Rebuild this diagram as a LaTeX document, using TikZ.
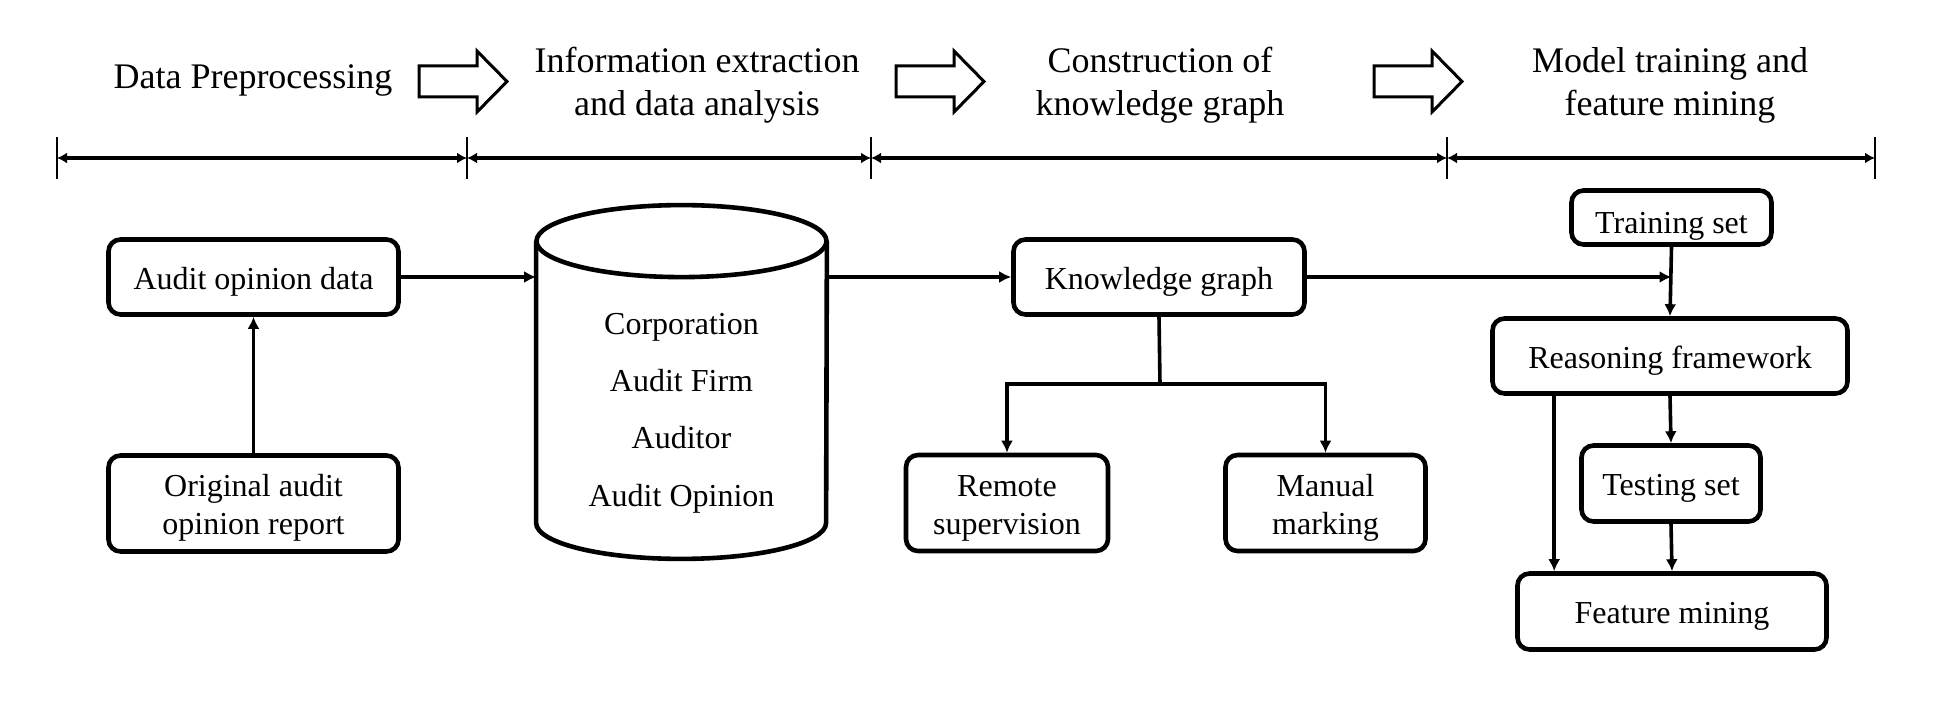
\documentclass[tikz,border=0pt]{standalone}
\usepackage{fontspec}
\setmainfont{Liberation Serif}
\usetikzlibrary{arrows.meta}
\newcommand{\bxfont}{\fontsize{16}{19}\selectfont}
\newcommand{\hdfont}{\fontsize{18}{21.5}\selectfont}
\newcommand{\lift}[1][15.5pt]{\rule{0pt}{#1}}
\begin{document}
\begin{tikzpicture}[x=0.5pt,y=-0.5pt,
  box/.style={draw, line width=2.3pt, rounded corners=6pt, align=center, inner sep=0pt, font=\bxfont},
  hd/.style={align=center, inner sep=0pt, font=\hdfont},
  conn/.style={line width=1.8pt, -{Latex[length=6pt,width=6pt]}},
  dimline/.style={line width=1.6pt, {Latex[length=5pt,width=5.5pt]}-{Latex[length=5pt,width=5.5pt]}},
  tick/.style={line width=1.4pt},
  blockarrow/.style={draw, line width=1.5pt, line join=miter},
  cyl/.style={line width=2.3pt}
]
\useasboundingbox (0,0) rectangle (1934,722);

% headers
\node[hd, anchor=base] (h1) at (253,89) {Data Preprocessing};
\node[hd] (h2) at (697,85) {Information extraction\\and data analysis};
\node[hd] (h3) at (1160,85) {Construction of\\knowledge graph};
\node[hd] (h4) at (1670,85) {Model training and\\feature mining};

% block arrows
\coordinate (ba1) at (419,66);
\coordinate (ba2) at (896,66);
\coordinate (ba3) at (1374,66);
\foreach \b in {ba1,ba2,ba3}{
  \draw[blockarrow] (\b) -- ++(58,0) -- ++(0,-15) -- ++(30,30.5) -- ++(-30,30.5) -- ++(0,-15) -- ++(-58,0) -- cycle;
}

% dimension line
\coordinate (t1) at (57,158);
\coordinate (t2) at (467,158);
\coordinate (t3) at (871,158);
\coordinate (t4) at (1447,158);
\coordinate (t5) at (1875,158);
\foreach \t in {t1,t2,t3,t4,t5}{
  \draw[tick] (\t) ++(0,-21) -- ++(0,42);
}
\draw[dimline] (t1) -- (t2);
\draw[dimline] (t2) -- (t3);
\draw[dimline] (t3) -- (t4);
\draw[dimline] (t4) -- (t5);

% boxes
\node[box, minimum width=145pt, minimum height=37.5pt] (audit) at (253.5,277) {\lift Audit opinion data};
\node[box, minimum width=145pt, minimum height=48pt] (orig) at (253.5,503.5) {\lift Original audit\\opinion report};
\node[box, minimum width=145.5pt, minimum height=37.5pt] (kg) at (1159,277) {\lift Knowledge graph};
\node[box, minimum width=101pt, minimum height=48pt] (remote) at (1007,503) {\lift Remote\\supervision};
\node[box, minimum width=100pt, minimum height=48pt] (manual) at (1325.5,503) {\lift Manual\\marking};
\node[box, minimum width=100pt, minimum height=27pt] (train) at (1671.5,217.5) {\lift[19.5pt]Training set};
\node[box, minimum width=177.5pt, minimum height=37.5pt] (reason) at (1670,356) {\lift Reasoning framework};
\node[box, minimum width=89.5pt, minimum height=38pt] (test) at (1671,483.5) {\lift Testing set};
\node[box, minimum width=154.5pt, minimum height=38pt] (feat) at (1672,611.5) {\lift Feature mining};

% database cylinder
\node[minimum width=145pt, minimum height=176.5pt, inner sep=0pt] (db) at (681.5,382) {};
\draw[cyl] ([yshift=-18pt]db.north) ellipse [x radius=72.5pt, y radius=18pt];
\draw[cyl] ([yshift=-18pt]db.north west) -- ([yshift=18pt]db.south west)
  arc [start angle=180, end angle=360, x radius=72.5pt, y radius=18pt]
  -- ([yshift=-18pt]db.north east);
\node[align=center, inner sep=0pt, font=\fontsize{16}{28.7}\selectfont] (dbtext) at (681.5,413)
  {Corporation\\Audit Firm\\Auditor\\Audit Opinion};

% connectors
\draw[conn] (orig.north) -- (audit.south);
\draw[conn] (audit.east) -- (audit.east -| db.west);
\draw[conn] (db.east |- kg.west) -- (kg.west);
\draw[conn] (kg.east) -- (kg.east -| train.south);
\draw[conn] (train.south) -- (reason.north);
\coordinate (split) at (1160,384);
\draw[line width=1.8pt] (kg.south) -- (split);
\draw[conn] (split) -| (remote.north);
\draw[conn] (split) -| (manual.north);
\draw[conn] (reason.south) -- (test.north);
\draw[conn] (test.south) -- (feat.north);
\draw[conn] ([xshift=32pt]reason.south west) -- ([xshift=32pt]reason.south west |- feat.north);
\end{tikzpicture}
\end{document}
